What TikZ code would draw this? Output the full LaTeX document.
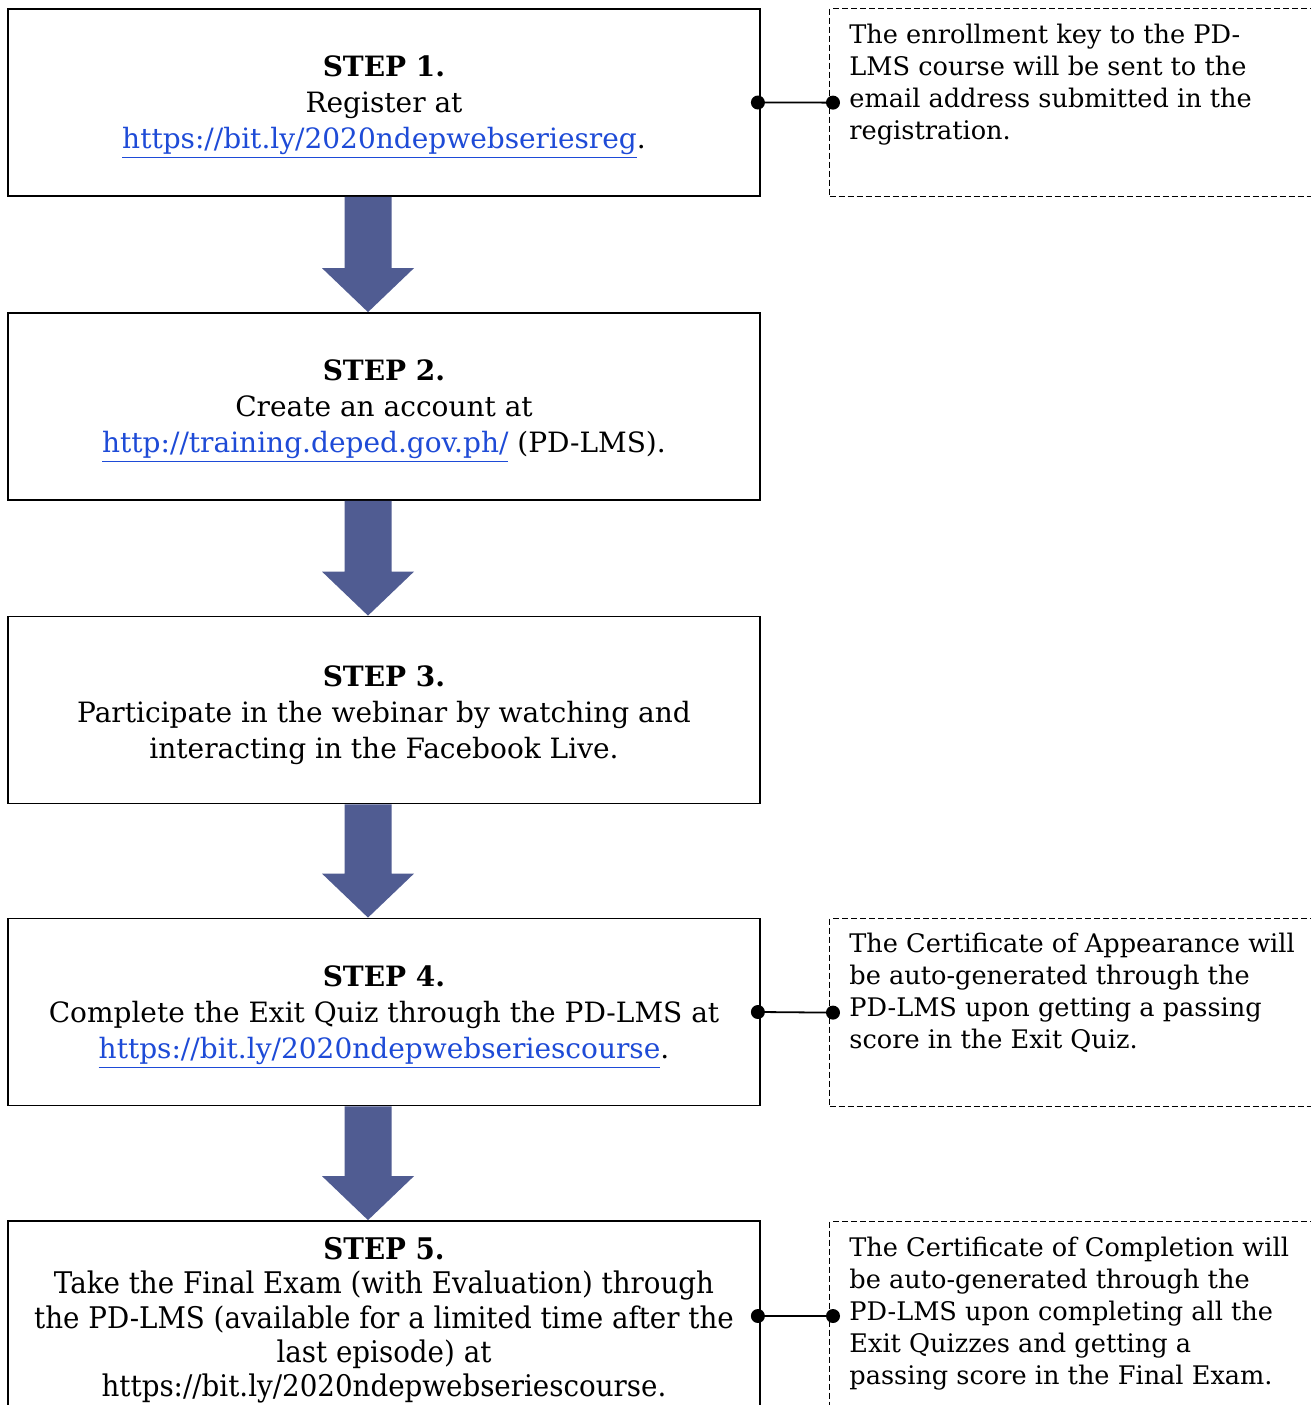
\documentclass[tikz,border=0pt]{standalone}
\usepackage{fontspec}
\setmainfont{DejaVu Serif}
\newfontfamily\condfont[FakeStretch=0.93]{DejaVu Serif}
\usetikzlibrary{calc}
\definecolor{arrowblue}{RGB}{80,92,146}
\definecolor{linkblue}{RGB}{30,75,215}
\newcommand\lnk[1]{\textcolor{linkblue}{\underline{#1}}}
\newcommand\topstrut{\rule{0pt}{15.4pt}}
\newcommand\bigarrow[2]{%
  \fill[arrowfill] ($(ax|-#1.south)+(-23.5,0)$) -- ($(ax|-#1.south)+(23.5,0)$)
    -- ($(ax|-#2.north)+(23.5,-44)$) -- ($(ax|-#2.north)+(46,-44)$)
    -- (ax|-#2.north) -- ($(ax|-#2.north)+(-46,-44)$)
    -- ($(ax|-#2.north)+(-23.5,-44)$) -- cycle;}
\begin{document}
\begin{tikzpicture}[x=0.5pt,y=-0.5pt,
  stepbox/.style={draw, line width=0.9pt, minimum width=376pt, minimum height=93.5pt,
    inner sep=0pt, align=center, font=\fontsize{14}{18}\selectfont},
  notebox/.style={draw, dash pattern=on 3pt off 1.5pt, line width=0.6pt,
    minimum width=245.5pt, minimum height=94pt, inner sep=0pt, anchor=north west},
  notetext/.style={anchor=north west, align=left, inner sep=0pt,
    font=\fontsize{12.8}{16}\selectfont},
  arrowfill/.style={fill=arrowblue},
  conn/.style={line width=0.9pt},
  dot/.style={fill=black}]
\useasboundingbox (0,0) rectangle (1311,1405);
\clip (0,0) rectangle (1311,1405);
\fill[white] (0,0) rectangle (1311,1405);
\coordinate (ax) at (368,0);

\node[stepbox] (b1) at (384,102.5) {\topstrut\textbf{STEP 1.}\\Register at\\\lnk{https://bit.ly/2020ndepwebseriesreg}.};
\node[stepbox] (b2) at (384,406.5) {\topstrut\textbf{STEP 2.}\\Create an account at\\\lnk{http://training.deped.gov.ph/} (PD-LMS).};
\node[stepbox] (b3) at (384,710) {\topstrut\textbf{STEP 3.}\\Participate in the webinar by watching and\\interacting in the Facebook Live.};
\node[stepbox] (b4) at (384,1012) {\topstrut\textbf{STEP 4.}\\Complete the Exit Quiz through the PD-LMS at\\\lnk{https://bit.ly/2020ndepwebseriescourse}.};
\node[stepbox, minimum height=95pt, font=\condfont\fontsize{14.9}{17.2}\selectfont] (b5) at (384,1316) {\topstrut\textbf{STEP 5.}\\Take the Final Exam (with Evaluation) through\\the PD-LMS (available for a limited time after the\\last episode) at\\https://bit.ly/2020ndepwebseriescourse.};

\bigarrow{b1}{b2}
\bigarrow{b2}{b3}
\bigarrow{b3}{b4}
\bigarrow{b4}{b5}

\node[notebox] (n1) at (829,8) {};
\node[notebox] (n2) at (829,918) {};
\node[notebox] (n3) at (829,1221) {};

\node[notetext] (t1) at (849,24) {The enrollment key to the PD-\\LMS course will be sent to the\\email address submitted in the\\registration.};
\node[notetext] (t2) at (849,933) {The Certificate of Appearance will\\be auto-generated through the\\PD-LMS upon getting a passing\\score in the Exit Quiz.};
\node[notetext] (t3) at (849,1237) {The Certificate of Completion will\\be auto-generated through the\\PD-LMS upon completing all the\\Exit Quizzes and getting a\\passing score in the Final Exam.};

\draw[conn] (b1.east) -- (n1.west);
\draw[conn] (b4.east) -- (n2.west);
\draw[conn] (b5.east) -- (n3.west |- b5.east);
\fill[dot] ($(b1.east)+(-3,0)$) circle (3.5pt);
\fill[dot] ($(n1.west)+(4,0)$) circle (3.5pt);
\fill[dot] ($(b4.east)+(-3,0)$) circle (3.5pt);
\fill[dot] ($(n2.west)+(4,0)$) circle (3.5pt);
\fill[dot] ($(b5.east)+(-3,0)$) circle (3.5pt);
\fill[dot] ($(n3.west |- b5.east)+(4,0)$) circle (3.5pt);
\end{tikzpicture}
\end{document}
